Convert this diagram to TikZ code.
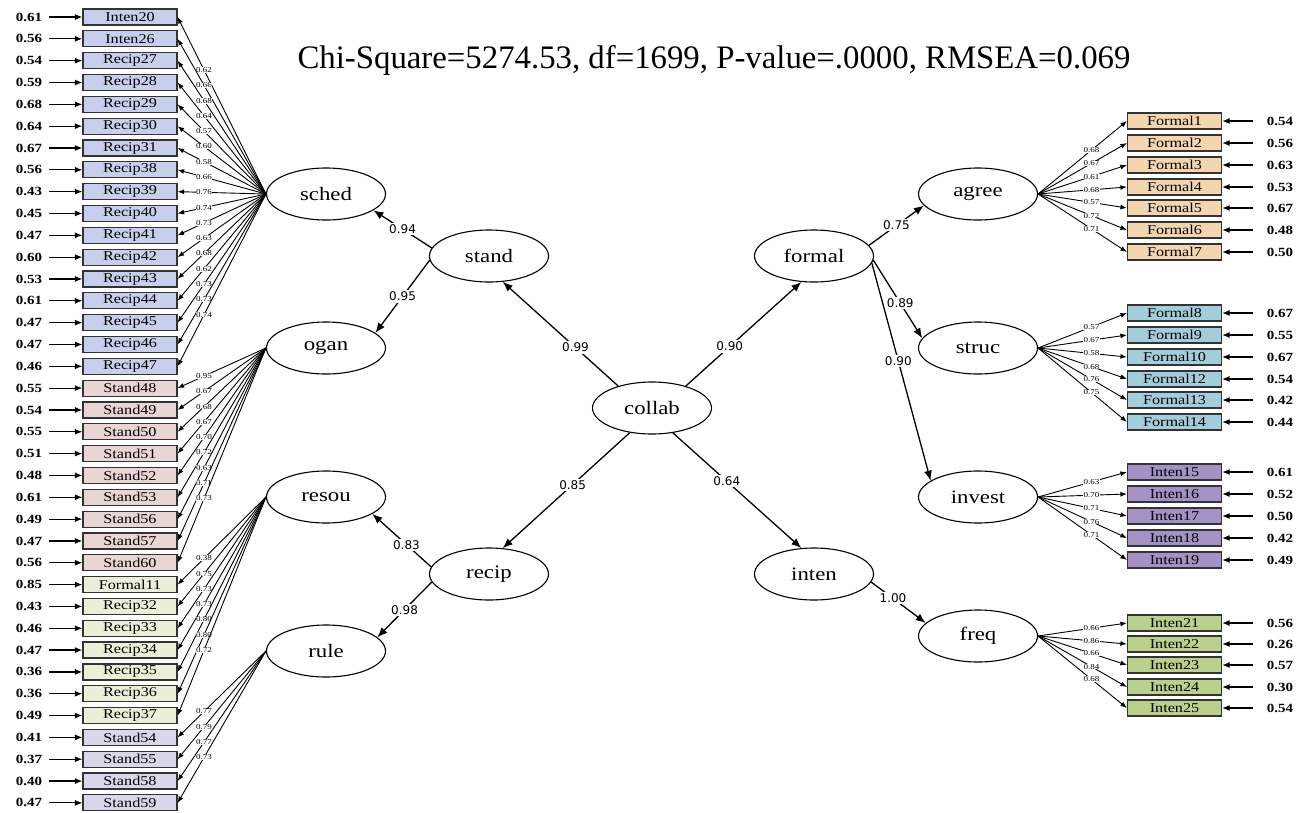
\documentclass[tikz,border=0pt]{standalone}
\usepackage{fontspec}
\setmainfont{Liberation Serif}
\newfontfamily\semfont[FakeStretch=1.2]{Liberation Serif}
\newfontfamily\coeffont{DejaVu Sans}
\usetikzlibrary{shapes.geometric,arrows.meta,positioning}
\definecolor{csched}{HTML}{C7CFEC}
\definecolor{cogan}{HTML}{EAD5D5}
\definecolor{cresou}{HTML}{E9F0D7}
\definecolor{crule}{HTML}{DAD6EC}
\definecolor{cagree}{HTML}{F3D5AF}
\definecolor{cstruc}{HTML}{A3CDDB}
\definecolor{cinvest}{HTML}{A491C6}
\definecolor{cfreq}{HTML}{BBD08A}

\begin{document}
\begin{tikzpicture}[x=1pt,y=-1pt,
    latent/.style={ellipse,draw,line width=1.1pt,minimum width=119pt,minimum height=52pt,inner sep=0pt,font=\semfont\fontsize{19}{19}\selectfont},
    indic/.style={draw=black!80,line width=1.2pt,minimum width=94pt,minimum height=16pt,inner sep=0pt,font=\semfont\fontsize{13.5}{13.5}\selectfont},
    errl/.style={inner ysep=1pt,inner xsep=7pt,font=\semfont\bfseries\fontsize{12.5}{12.5}\selectfont},
    errr/.style={errl,inner xsep=14pt},
    loadlbl/.style={fill=white,inner sep=0.3pt,font=\semfont\fontsize{7.5}{7.5}\selectfont},
    coef/.style={fill=white,inner sep=1.5pt,font=\coeffont\fontsize{12}{12}\selectfont},
    patharr/.style={-{Latex[length=10pt,width=8pt]},line width=1.3pt},
    fan/.style={-{Latex[length=6.5pt,width=5pt]},line width=0.9pt},
    errarr/.style={-{Latex[length=7.5pt,width=6pt]},line width=1.2pt}]
  \useasboundingbox (0,0) rectangle (1300,812);

  \node[anchor=base,font=\fontsize{32.8}{33}\selectfont] (fit) at (714,68)
    {Chi-Square=5274.53, df=1699, P-value=.0000, RMSEA=0.069};

  \node[latent] (collab) at (652,408) {collab};
  \node[latent] (stand) at (489,256) {stand};
  \node[latent] (recip) at (489,574) {recip};
  \node[latent] (formal) at (814,256) {formal};
  \node[latent] (inten) at (814,574) {inten};
  \node[latent] (sched) at (326,194) {sched};
  \node[latent] (ogan) at (326,348) {ogan};
  \node[latent] (resou) at (326,497) {resou};
  \node[latent] (rule) at (326,651) {rule};
  \node[latent] (agree) at (978,194) {agree};
  \node[latent] (struc) at (978,348) {struc};
  \node[latent] (invest) at (978,497) {invest};
  \node[latent] (freq) at (978,636) {freq};

  \draw[patharr] (collab.147) -- node[coef,pos=0.37] (c1) {0.99} (stand.-62);
  \draw[patharr] (stand.172) -- node[coef] (c2) {0.94} (sched.-19);
  \draw[patharr] (stand.184) -- node[coef] (c3) {0.95} (ogan.17);
  \draw[patharr] (collab.228) -- node[coef,pos=0.45] (c4) {0.85} (recip.62);
  \draw[patharr] (recip.173) -- node[coef,pos=0.42] (c5) {0.83} (resou.-20);
  \draw[patharr] (recip.188) -- node[coef] (c6) {0.98} (rule.15);
  \draw[patharr] (collab.33) -- node[coef,pos=0.38] (c7) {0.90} (formal.244);
  \draw[patharr] (formal.11) -- node[coef] (c8) {0.75} (agree.192);
  \draw[patharr] (formal.-4) -- node[coef,pos=0.55] (c9) {0.89} (struc.170);
  \draw[patharr] (formal.-7) -- node[coef,pos=0.45] (c10) {0.90} (invest.161);
  \draw[patharr] (collab.-50) -- node[coef,pos=0.42] (c11) {0.64} (inten.116);
  \draw[patharr] (inten.-8) -- node[coef,pos=0.4] (c12) {1.00} (freq.166);

  \foreach \nm/\lv/\e/\l [count=\i from 0] in {
      Inten20/sched/0.61/0.62, Inten26/sched/0.56/0.66, Recip27/sched/0.54/0.68,
      Recip28/sched/0.59/0.64, Recip29/sched/0.68/0.57, Recip30/sched/0.64/0.60,
      Recip31/sched/0.67/0.58, Recip38/sched/0.56/0.66, Recip39/sched/0.43/0.76,
      Recip40/sched/0.45/0.74, Recip41/sched/0.47/0.73, Recip42/sched/0.60/0.63,
      Recip43/sched/0.53/0.68, Recip44/sched/0.61/0.62, Recip45/sched/0.47/0.73,
      Recip46/sched/0.47/0.73, Recip47/sched/0.46/0.74,
      Stand48/ogan/0.55/0.95, Stand49/ogan/0.54/0.67, Stand50/ogan/0.55/0.68,
      Stand51/ogan/0.51/0.67, Stand52/ogan/0.48/0.70, Stand53/ogan/0.61/0.72,
      Stand56/ogan/0.49/0.63, Stand57/ogan/0.47/0.71, Stand60/ogan/0.56/0.73,
      Formal11/resou/0.85/0.38, Recip32/resou/0.43/0.75, Recip33/resou/0.46/0.73,
      Recip34/resou/0.47/0.73, Recip35/resou/0.36/0.80, Recip36/resou/0.36/0.80,
      Recip37/resou/0.49/0.72,
      Stand54/rule/0.41/0.77, Stand55/rule/0.37/0.79, Stand58/rule/0.40/0.77,
      Stand59/rule/0.47/0.73} {
    \node[indic,fill=c\lv] (\nm) at (130,{17+21.83*\i}) {\nm};
    \node[errl] (e\nm) at (29,{17+21.83*\i}) {\e};
    \draw[errarr] (e\nm) -- (\nm);
    \draw[fan] (\lv.west) -- node[loadlbl,pos=0.7] (l\nm) {\l} (\nm.east);
  }

  \foreach \nm/\lv/\y/\e/\l in {
      Formal1/agree/121/0.54/0.68, Formal2/agree/143/0.56/0.67, Formal3/agree/165/0.63/0.61,
      Formal4/agree/187/0.53/0.68, Formal5/agree/208/0.67/0.57, Formal6/agree/230/0.48/0.72,
      Formal7/agree/252/0.50/0.71,
      Formal8/struc/313/0.67/0.57, Formal9/struc/335/0.55/0.67, Formal10/struc/357/0.67/0.58,
      Formal12/struc/379/0.54/0.68, Formal13/struc/400/0.42/0.76, Formal14/struc/422/0.44/0.75,
      Inten15/invest/472/0.61/0.63, Inten16/invest/494/0.52/0.70, Inten17/invest/516/0.50/0.71,
      Inten18/invest/538/0.42/0.76, Inten19/invest/560/0.49/0.71,
      Inten21/freq/623/0.56/0.66, Inten22/freq/644/0.26/0.86, Inten23/freq/665/0.57/0.66,
      Inten24/freq/687/0.30/0.84, Inten25/freq/708/0.54/0.68} {
    \node[indic,fill=c\lv] (\nm) at (1174.5,\y) {\nm};
    \node[errr] (e\nm) at (1280,\y) {\e};
    \draw[errarr] (e\nm) -- (\nm);
    \draw[fan] (\lv.east) -- node[loadlbl,pos=0.6] (l\nm) {\l} (\nm.west);
  }
\end{tikzpicture}
\end{document}
